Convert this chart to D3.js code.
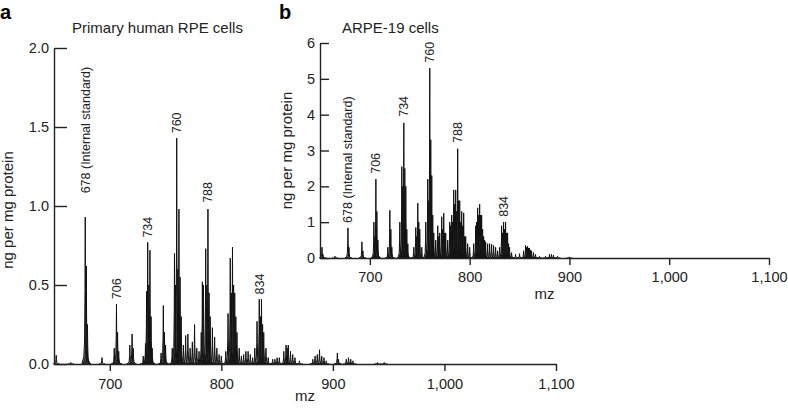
<!DOCTYPE html>
<html>
<head>
<meta charset="utf-8">
<script src="https://cdn.jsdelivr.net/npm/d3@7"></script>
<style>
  body { margin: 0; background: #fff; }
  svg { font-family: "Liberation Sans", Arial, sans-serif; }
  .axis path, .axis line { stroke: #222; stroke-width: 1.4; }
  .axis text { font-size: 14.5px; fill: #222; }
</style>
</head>
<body>
<div class="chart"></div>
<script>
// panel a - primary human RPE cells
const aMz  = [652,665,678,679,680,693,704,706,707,708,718,720,721,730,732,733,734,735,736,737,738,746,748,749,750,756,758,759,760,761,762,763,764,766,768,770,772,774,776,778,780,782,783,784,786,787,788,789,790,792,794,796,798,800,804,806,808,809,810,811,812,813,814,816,818,820,822,824,826,828,830,832,834,835,836,837,838,840,842,846,848,850,852,856,858,859,860,862,864,866,870,882,884,886,888,890,892,894,904,905,912,914,916,918,940,946];
const aInt = [0.055,0.01,0.93,0.62,0.25,0.04,0.1,0.38,0.2,0.08,0.12,0.19,0.1,0.05,0.13,0.46,0.77,0.5,0.72,0.3,0.1,0.07,0.37,0.2,0.12,0.1,0.7,0.5,1.43,0.6,0.98,0.55,0.3,0.12,0.18,0.19,0.1,0.14,0.25,0.1,0.08,0.2,0.52,0.5,0.73,0.5,0.98,0.45,0.3,0.23,0.17,0.1,0.06,0.05,0.08,0.32,0.67,0.45,0.74,0.5,0.45,0.3,0.2,0.1,0.05,0.06,0.08,0.08,0.06,0.04,0.1,0.27,0.41,0.3,0.41,0.25,0.2,0.1,0.04,0.03,0.03,0.04,0.04,0.08,0.12,0.1,0.12,0.08,0.06,0.04,0.02,0.03,0.05,0.06,0.09,0.05,0.04,0.02,0.07,0.03,0.03,0.04,0.03,0.02,0.01,0.01];
const aLabelMz   = [678,706,734,760,788,834];
const aLabelText = ["678 (Internal standard)","706","734","760","788","834"];
const aLabelAt   = [1.08,0.41,0.8,1.46,1.02,0.44];
const aYTicks = [0,0.5,1,1.5,2];

// panel b - ARPE-19 cells
const bMz  = [652,653,665,678,679,692,693,704,705,706,707,708,718,720,721,722,730,732,733,734,735,736,737,738,744,746,747,748,749,750,752,756,758,759,760,761,762,763,764,766,768,769,770,772,773,774,775,776,778,780,781,782,783,784,785,786,787,788,789,790,791,792,793,794,795,796,798,800,804,806,807,808,809,810,811,812,813,814,815,816,818,820,822,824,826,828,830,832,833,834,835,836,837,838,839,840,842,846,850,854,856,857,858,859,860,861,862,864,866,870,876,880,882,884,888,900];
const bInt = [0.3,0.1,0.05,0.84,0.3,0.45,0.2,1.0,0.6,2.2,1.3,0.5,0.3,1.33,0.8,0.3,1.0,2.55,2.0,3.77,2.5,2.0,0.8,0.4,0.3,0.85,0.6,1.53,1.0,0.8,0.3,1.0,2.2,1.6,5.3,3.3,2.3,1.2,0.7,0.5,0.9,0.6,0.7,1.15,0.8,1.25,0.7,0.7,0.5,1.0,0.9,1.2,1.0,1.9,1.5,1.9,1.3,3.05,1.6,1.6,1.0,1.3,0.9,1.26,0.6,0.6,0.4,0.3,0.4,0.9,1.0,1.4,1.2,1.5,1.2,1.2,0.8,0.6,0.5,0.45,0.4,0.4,0.38,0.35,0.3,0.2,0.3,0.9,0.7,1.0,0.8,1.0,0.7,0.7,0.4,0.3,0.15,0.1,0.12,0.2,0.35,0.3,0.33,0.28,0.28,0.22,0.2,0.15,0.1,0.05,0.05,0.1,0.1,0.08,0.05,0.03];
const bLabelMz   = [678,706,734,760,788,834];
const bLabelText = ["678 (Internal standard)","706","734","760","788","834"];
const bLabelAt   = [0.98,2.35,3.94,5.45,3.21,1.15];
const bYTicks = [0,1,2,3,4,5,6];

const xTicks = [700,800,900,1000,1100];

const svg = d3.select(".chart").append("svg").attr("width", 788).attr("height", 412);

// peak outline (mz offset, fraction of height) - narrow top, wide tails
const spike = [[-3,0],[-1.3,0.05],[-0.6,0.15],[-0.2,0.5],[0,1],[0.2,0.5],[0.6,0.15],[1.3,0.05],[3,0]];

function panel(opt) {
  const x = d3.scaleLinear().domain([650,1100]).range(opt.xr);
  const y = d3.scaleLinear().domain(opt.yd).range(opt.yr);
  const g = svg.append("g");

  const line = d3.line().x(d => x(d[0])).y(d => y(d[1]));
  g.append("g").selectAll("path")
    .data(opt.mz.map((m,i) => spike.map(s => [m + s[0], s[1] * opt.int[i]])))
    .enter().append("path")
    .attr("d", line)
    .attr("fill", "#1a1a1a")
    .attr("fill-opacity", 0.5)
    .attr("stroke", "#111")
    .attr("stroke-width", 1);

  const xAxis = d3.axisBottom(x).tickValues(xTicks).tickFormat(d3.format(","))
    .tickSizeInner(7).tickSizeOuter(0).tickPadding(opt.xpad);
  g.append("g").attr("class","axis").attr("transform", `translate(0,${opt.yr[0]})`).call(xAxis);

  const yAxis = d3.axisLeft(y).tickValues(opt.yt).tickFormat(opt.yf)
    .tickSizeInner(-opt.ytick).tickSizeOuter(0).tickPadding(5);
  g.append("g").attr("class","axis").attr("transform", `translate(${opt.xr[0]},0)`).call(yAxis);

  g.selectAll(".peak")
    .data(opt.lmz)
    .enter().append("text")
    .attr("class","peak")
    .attr("transform", (d,i) => `translate(${x(d)},${y(opt.lat[i])}) rotate(-90)`)
    .attr("dy", "0.35em")
    .attr("font-size", 12.5)
    .attr("fill", "#222")
    .text((d,i) => opt.ltxt[i]);

  g.append("text").attr("x", (opt.xr[0]+opt.xr[1])/2).attr("y", opt.mzy)
    .attr("text-anchor","middle").attr("font-size",15).attr("fill","#222").text("mz");
  g.append("text")
    .attr("transform", `translate(${opt.ylx},${(opt.yr[0]+opt.yr[1])/2 + opt.yloff}) rotate(-90)`)
    .attr("text-anchor","middle").attr("font-size",15).attr("fill","#222").text("ng per mg protein");
  g.append("text").attr("x", opt.tx).attr("y", 33).attr("font-size",15).attr("fill","#222").text(opt.title);
  g.append("text").attr("x", opt.lx).attr("y", 19).attr("font-size",20).attr("font-weight","bold").text(opt.letter);
}

panel({xr:[54,556], yr:[364,48], yd:[0,2], mz:aMz, int:aInt, lmz:aLabelMz, ltxt:aLabelText, lat:aLabelAt,
  yt:aYTicks, yf:d3.format(".1f"), ytick:13, xpad:8, mzy:401, ylx:13, yloff:4,
  tx:72, title:"Primary human RPE cells", lx:0, letter:"a"});

panel({xr:[320,769], yr:[258,43], yd:[0,6], mz:bMz, int:bInt, lmz:bLabelMz, ltxt:bLabelText, lat:bLabelAt,
  yt:bYTicks, yf:d3.format("d"), ytick:9, xpad:7, mzy:299, ylx:292, yloff:0,
  tx:342, title:"ARPE-19 cells", lx:279, letter:"b"});
</script>
</body>
</html>
